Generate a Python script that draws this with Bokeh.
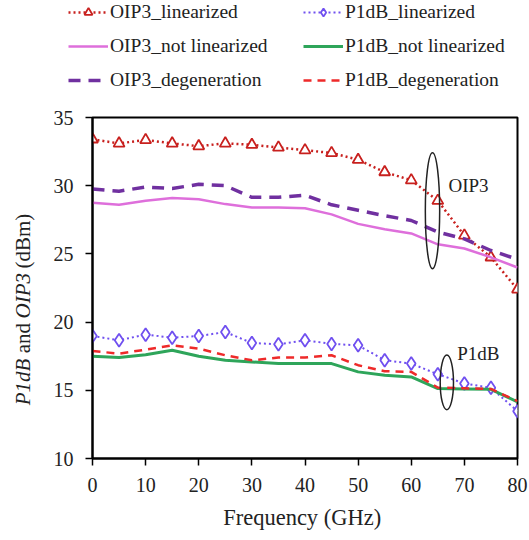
import math
from bokeh.plotting import figure
from bokeh.layouts import column, row
from bokeh.models import Range1d, Legend, LegendItem, Label, FixedTicker
from bokeh.embed import file_html
from bokeh.resources import INLINE

# Frequency points (GHz)
freq = [0, 5, 10, 15, 20, 25, 30, 35, 40, 45, 50, 55, 60, 65, 70, 75, 80]

# OIP3 (dBm)
oip3_lin = [33.4, 33.1, 33.35, 33.1, 32.9, 33.1, 33.0, 32.8, 32.6, 32.4, 31.9, 31.0, 30.4, 28.9, 26.35, 24.75, 22.4]
oip3_not = [28.75, 28.6, 28.9, 29.1, 29.0, 28.65, 28.4, 28.4, 28.35, 27.9, 27.2, 26.8, 26.5, 25.7, 25.4, 24.75, 24.0]
oip3_deg = [29.75, 29.6, 29.9, 29.8, 30.1, 30.0, 29.15, 29.15, 29.3, 28.6, 28.2, 27.8, 27.45, 26.6, 26.1, 25.25, 24.6]

# P1dB (dBm)
p1db_lin = [18.98, 18.67, 19.08, 18.86, 18.98, 19.27, 18.47, 18.37, 18.67, 18.4, 18.3, 17.2, 16.96, 16.18, 15.5, 15.18, 13.47]
p1db_not = [17.5, 17.4, 17.6, 17.93, 17.5, 17.2, 17.08, 16.96, 16.96, 16.96, 16.35, 16.1, 15.98, 15.13, 15.1, 15.07, 14.15]
p1db_deg = [17.88, 17.69, 17.98, 18.3, 18.05, 17.57, 17.2, 17.4, 17.4, 17.57, 16.84, 16.4, 16.35, 15.2, 15.15, 15.1, 14.2]

x_ticks = [0, 10, 20, 30, 40, 50, 60, 70, 80]
y_ticks = [10, 15, 20, 25, 30, 35]

FONT = "'Liberation Serif', 'Times New Roman', serif"
TXT = "#222222"

# Line styles shared by the plot and its legend
styles = {
    "OIP3_linearized": dict(line_color="#C8201E", line_width=2.5, line_dash="2 3"),
    "OIP3_not linearized": dict(line_color="#DE6FDB", line_width=2.5),
    "OIP3_degeneration": dict(line_color="#7030A0", line_width=3.5, line_dash="12 8"),
    "P1dB_linearized": dict(line_color="#7050F0", line_width=2, line_dash="2 3"),
    "P1dB_not linearized": dict(line_color="#2EA55A", line_width=3),
    "P1dB_degeneration": dict(line_color="#EE2A2A", line_width=2.5, line_dash="8 6"),
}
markers = {
    "OIP3_linearized": dict(marker="triangle", size=11, line_color="#C8201E", line_width=1.8, fill_color="white"),
    "P1dB_linearized": dict(marker="diamond", size=13, line_color="#7050F0", line_width=1.8, fill_color="white"),
}
series = {
    "OIP3_linearized": oip3_lin, "OIP3_not linearized": oip3_not, "OIP3_degeneration": oip3_deg,
    "P1dB_linearized": p1db_lin, "P1dB_not linearized": p1db_not, "P1dB_degeneration": p1db_deg,
}

# ---------------- main chart ----------------
p = figure(width=484, height=440, output_backend="svg", toolbar_location=None,
           x_range=Range1d(0, 80), y_range=Range1d(10, 35),
           min_border_left=47, min_border_right=12, min_border_top=17, min_border_bottom=82)
p.background_fill_color = "white"
p.border_fill_color = "white"
p.grid.visible = False
p.outline_line_color = "black"
p.outline_line_width = 2

for ax in (p.xaxis[0], p.yaxis[0]):
    ax.axis_line_color = "black"
    ax.axis_line_width = 2
    ax.major_tick_line_color = "black"
    ax.major_tick_line_width = 1.5
    ax.major_tick_out = 7
    ax.major_tick_in = 0
    ax.minor_tick_line_color = None
    ax.major_label_text_font = FONT
    ax.major_label_text_font_size = "20px"
    ax.major_label_text_color = TXT

p.xaxis[0].ticker = FixedTicker(ticks=x_ticks)
p.yaxis[0].ticker = FixedTicker(ticks=y_ticks)
p.xaxis[0].major_label_standoff = 12
p.yaxis[0].major_label_standoff = 12
p.xaxis[0].axis_label = "Frequency  (GHz)"
p.xaxis[0].axis_label_text_font = FONT
p.xaxis[0].axis_label_text_font_size = "22.5px"
p.xaxis[0].axis_label_text_font_style = "normal"
p.xaxis[0].axis_label_text_color = TXT
p.xaxis[0].axis_label_standoff = 10

for name, ys in series.items():
    p.line(freq, ys, **styles[name])
    if name in markers:
        p.scatter(freq, ys, **markers[name])

# Group highlight ellipses with their labels
p.ellipse(x=[64.0], y=[28.17], width=2.7, height=8.5, fill_color=None,
          line_color=TXT, line_width=1.5)
p.ellipse(x=[66.7], y=[15.58], width=2.5, height=4.0, fill_color=None,
          line_color=TXT, line_width=1.5)
p.add_layout(Label(x=67.0, y=30.0, text="OIP3", text_font=FONT, text_font_size="19px",
                   text_baseline="middle", text_color=TXT))
p.add_layout(Label(x=68.65, y=17.7, text="P1dB", text_font=FONT, text_font_size="19px",
                   text_baseline="middle", text_color=TXT))

# ---------------- y axis title (mixed italic) ----------------
# shares the value range of the chart, so the frames line up row-wise
yf = figure(width=45, height=440, output_backend="svg", toolbar_location=None,
            x_range=Range1d(0, 45), y_range=p.y_range,
            x_axis_type=None, y_axis_type=None, min_border=0)
yf.outline_line_color = None
yf.grid.visible = False
ylab_parts = [("P1dB", "italic", 13.90), ("and", "normal", 17.71),
              ("OIP3", "italic", 20.27), ("(dBm)", "normal", 23.93)]
for txt, style, ypos in ylab_parts:
    yf.add_layout(Label(x=22, y=ypos, text=txt, angle=math.pi / 2, text_font=FONT,
                        text_font_size="21px", text_font_style=style,
                        text_baseline="middle", text_align="left", text_color=TXT))

# ---------------- legend strip ----------------
lf = figure(width=529, height=100, output_backend="svg", toolbar_location=None,
            x_range=Range1d(0, 529), y_range=Range1d(0, 100),
            x_axis_type=None, y_axis_type=None, min_border=0)
lf.outline_line_color = None
lf.grid.visible = False

# legend sample renderers sit outside the strip's visible range
proxy_x = [-100]
proxy_y = [-100]
items = {}
for name in series:
    rs = [lf.line(proxy_x, proxy_y, **styles[name])]
    if name in markers:
        rs.append(lf.scatter(proxy_x, proxy_y, **markers[name]))
    items[name] = LegendItem(label=name, renderers=rs)

legend_style = dict(orientation="vertical", glyph_width=40, glyph_height=20, label_height=20,
                    spacing=12, padding=0, margin=0, label_standoff=2,
                    border_line_alpha=0, background_fill_alpha=0,
                    label_text_font=FONT, label_text_font_size="19.5px",
                    label_text_color=TXT)
names = list(series)
lf.add_layout(Legend(items=[items[n] for n in names[:3]], location=(68, 9), **legend_style))
lf.add_layout(Legend(items=[items[n] for n in names[3:]], location=(303, 9), **legend_style))

layout = column(lf, row(yf, p, spacing=0), spacing=0)
open("out.html", "w").write(file_html(layout, INLINE))
